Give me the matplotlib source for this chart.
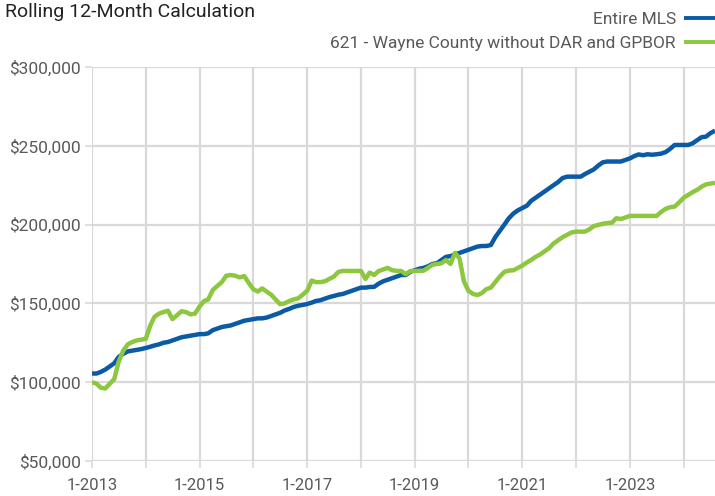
import pandas as pd
import matplotlib
matplotlib.use("Agg")
from matplotlib import pyplot as plt
import matplotlib.dates as mdates
from matplotlib.ticker import FuncFormatter

plt.rcParams['font.family'] = ['Roboto', 'DejaVu Sans']

# monthly rolling 12-month median price, in $1000, Jan 2013 .. Aug 2024
start = "2013-01-01"
entire_mls = [
    105.5, 105.5, 106.5, 108, 110, 112, 116, 118, 119.5, 120, 120.5, 121,          # 2013
    121.7, 122.5, 123.3, 124, 125, 125.5, 126.5, 127.5, 128.5, 129, 129.5, 130,    # 2014
    130.5, 130.5, 131, 133, 134, 135, 135.5, 136, 137, 138, 139, 139.5,            # 2015
    140, 140.5, 140.5, 141, 142, 143, 144, 145.5, 146.5, 147.7, 148.5, 149,        # 2016
    149.6, 150.5, 151.5, 152, 153, 154, 154.7, 155.5, 156, 157, 158, 159,          # 2017
    160, 160, 160.4, 160.5, 162.5, 164, 165, 166, 167, 168, 168, 170,              # 2018
    171, 172, 172.5, 173.5, 175, 175.5, 177.5, 179.5, 180, 181, 182, 183,          # 2019
    184, 185, 186, 186.4, 186.4, 187, 192, 196, 200, 204, 207, 209,                # 2020
    210.5, 212, 215, 217, 219, 221, 223, 225, 227, 229.5, 230.4, 230.4,            # 2021
    230.4, 230.4, 232, 233.5, 235, 237.5, 239.5, 240, 240, 240, 240, 241,          # 2022
    242, 243.5, 244.5, 244, 244.6, 244.3, 244.6, 245, 246, 248, 250.5, 250.5,      # 2023
    250.5, 250.5, 251.5, 253.5, 255.4, 255.8, 258, 259.6,                          # 2024
]
wayne_621 = [
    100, 99, 96.5, 96, 99, 102, 113, 120, 124, 125.5, 126.5, 127,                  # 2013
    127.5, 136, 141.5, 143.5, 144.5, 145.3, 140, 142.5, 145, 144.5, 143, 143.5,    # 2014
    148, 151.5, 152.5, 158.5, 161, 163.5, 167.5, 168, 167.5, 166.5, 167.3, 163,    # 2015
    159, 157.5, 159.5, 157.5, 155.5, 152.5, 149.5, 150, 151.5, 152.5, 153.2, 155.5,  # 2016
    158, 164.5, 163.5, 163.5, 164, 165.5, 167, 170, 170.6, 170.6, 170.6, 170.6,    # 2017
    170.6, 165.5, 169.5, 168, 170.5, 171.5, 172.5, 171, 170.6, 170.6, 168.5, 170.5,  # 2018
    170.6, 170.7, 170.7, 172.5, 174.5, 175, 175.4, 177.5, 175, 182, 178.6, 164,    # 2019
    158, 156, 155.3, 156.5, 159, 160, 163.5, 167, 170, 170.8, 171, 172.5,          # 2020
    174, 176, 177.5, 179.5, 181, 183, 185, 188, 190, 192, 193.5, 195,              # 2021
    195.5, 195.5, 195.5, 197, 199, 199.8, 200.5, 201, 201.2, 204, 203.5, 204.5,    # 2022
    205.5, 205.5, 205.5, 205.5, 205.5, 205.5, 205.5, 208, 210, 211, 211.4, 214,    # 2023
    217, 218.8, 220.5, 222, 224, 225.5, 226, 226.5,                                # 2024
]
labels = ["Entire MLS", "621 - Wayne County without DAR and GPBOR"]

dates = pd.date_range(start, periods=len(entire_mls), freq="MS")

blue = "#0A5AA6"
green = "#8DC63F"
grid_col = "#D9D9D9"
text_col = "#595959"

fig = plt.figure(figsize=(7.15, 4.96), dpi=100)
ax = fig.add_axes([0.1287, 0.0706, 0.8713, 0.7944])

ax.plot(dates, [v * 1000 for v in entire_mls], color=blue, lw=3.2,
        label=labels[0], solid_capstyle="butt")
ax.plot(dates, [v * 1000 for v in wayne_621], color=green, lw=3.2,
        label=labels[1], solid_capstyle="butt")

ax.set_ylim(50000, 300000)
ax.set_yticks(range(50000, 300001, 50000))
ax.yaxis.set_major_formatter(FuncFormatter(lambda v, p: f"${v:,.0f}"))

ax.set_xlim(dates[0], dates[-1])
ax.xaxis.set_major_locator(mdates.YearLocator(1))


def xfmt(v, pos):
    d = mdates.num2date(v)
    if (d.year - 2013) % 2 == 0:
        return f"{d.month}-{d.year}"
    return ""


ax.xaxis.set_major_formatter(FuncFormatter(xfmt))

ax.grid(True, color=grid_col, lw=1.6)
ax.set_axisbelow(True)
for s in ax.spines.values():
    s.set_visible(False)
ax.tick_params(axis="both", colors=grid_col, labelcolor=text_col,
               width=1.2, length=5)
ax.tick_params(axis="x", pad=7.5, labelsize=12)
ax.tick_params(axis="y", pad=3, labelsize=12.5)

fig.text(0.007, 0.994, "Rolling 12-Month Calculation", fontsize=14,
         color="#222222", va="top", ha="left")

leg = ax.legend(loc="upper right", bbox_to_anchor=(1.0, 1.14), frameon=False,
                markerfirst=False, fontsize=12.5, labelcolor=text_col,
                handlelength=1.8, handletextpad=0.45, labelspacing=0.5,
                borderaxespad=0, borderpad=0)
for line in leg.get_lines():
    line.set_linewidth(2.8)

fig.savefig("out.png", dpi=100)
